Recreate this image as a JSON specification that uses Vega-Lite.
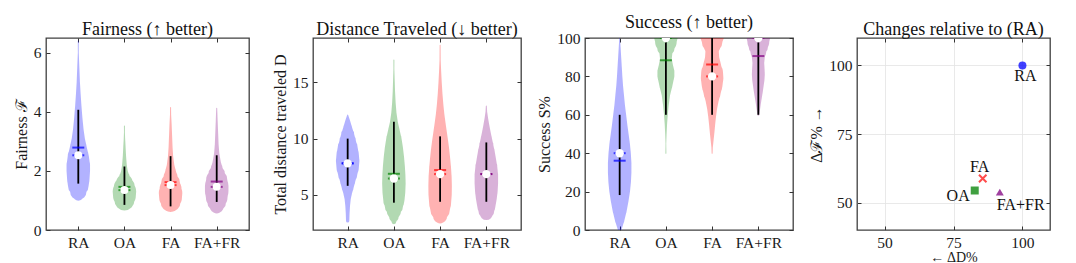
{
"$schema": "https://vega.github.io/schema/vega-lite/v6.json",
"bounds": "flush",
"spacing": 64,
"padding": {"left": 12, "top": 13, "right": 5, "bottom": 5},
"config": {
  "font": "Liberation Serif",
  "view": {"stroke": "#404040", "strokeWidth": 1.3},
  "axis": {"domain": false, "grid": false, "tickColor": "#333333", "tickSize": -4, "tickWidth": 1, "labelFont": "Liberation Serif", "labelFontSize": 15.5, "labelColor": "#1a1a1a", "labelPadding": 9, "titleFont": "Liberation Serif", "titleFontSize": 16, "titleFontWeight": "normal", "titleColor": "#1a1a1a", "titlePadding": 4},
  "title": {"font": "Liberation Serif", "fontSize": 18, "fontWeight": "normal", "color": "#111111", "offset": -1},
  "text": {"font": "Liberation Serif"}
},
"datasets": {
"violin": [
{"p":"F","g":"RA","v":1.16,"w":0.43},{"p":"F","g":"RA","v":1.3,"w":0.7},{"p":"F","g":"RA","v":1.5,"w":0.88},{"p":"F","g":"RA","v":1.7,"w":0.95},{"p":"F","g":"RA","v":2.0,"w":1.0},{"p":"F","g":"RA","v":2.2,"w":1.0},{"p":"F","g":"RA","v":2.5,"w":0.9},{"p":"F","g":"RA","v":2.8,"w":0.72},{"p":"F","g":"RA","v":3.1,"w":0.56},{"p":"F","g":"RA","v":3.4,"w":0.45},{"p":"F","g":"RA","v":3.8,"w":0.35},{"p":"F","g":"RA","v":4.2,"w":0.27},{"p":"F","g":"RA","v":4.6,"w":0.2},{"p":"F","g":"RA","v":5.0,"w":0.14},{"p":"F","g":"RA","v":5.5,"w":0.09},{"p":"F","g":"RA","v":6.0,"w":0.04},{"p":"F","g":"RA","v":6.4,"w":0.0},
{"p":"F","g":"OA","v":0.82,"w":0.25},{"p":"F","g":"OA","v":0.9,"w":0.6},{"p":"F","g":"OA","v":1.0,"w":0.85},{"p":"F","g":"OA","v":1.15,"w":0.97},{"p":"F","g":"OA","v":1.3,"w":1.0},{"p":"F","g":"OA","v":1.45,"w":0.9},{"p":"F","g":"OA","v":1.6,"w":0.72},{"p":"F","g":"OA","v":1.8,"w":0.45},{"p":"F","g":"OA","v":2.0,"w":0.28},{"p":"F","g":"OA","v":2.2,"w":0.2},{"p":"F","g":"OA","v":2.5,"w":0.14},{"p":"F","g":"OA","v":2.8,"w":0.1},{"p":"F","g":"OA","v":3.1,"w":0.06},{"p":"F","g":"OA","v":3.3,"w":0.04},{"p":"F","g":"OA","v":3.52,"w":0.0},
{"p":"F","g":"FA","v":0.78,"w":0.3},{"p":"F","g":"FA","v":0.85,"w":0.6},{"p":"F","g":"FA","v":0.95,"w":0.85},{"p":"F","g":"FA","v":1.1,"w":0.97},{"p":"F","g":"FA","v":1.25,"w":1.0},{"p":"F","g":"FA","v":1.4,"w":0.93},{"p":"F","g":"FA","v":1.6,"w":0.8},{"p":"F","g":"FA","v":1.8,"w":0.6},{"p":"F","g":"FA","v":2.0,"w":0.45},{"p":"F","g":"FA","v":2.2,"w":0.32},{"p":"F","g":"FA","v":2.5,"w":0.22},{"p":"F","g":"FA","v":2.8,"w":0.17},{"p":"F","g":"FA","v":3.2,"w":0.13},{"p":"F","g":"FA","v":3.6,"w":0.09},{"p":"F","g":"FA","v":3.9,"w":0.05},{"p":"F","g":"FA","v":4.15,"w":0.0},
{"p":"F","g":"FA+FR","v":0.68,"w":0.3},{"p":"F","g":"FA+FR","v":0.8,"w":0.6},{"p":"F","g":"FA+FR","v":0.95,"w":0.8},{"p":"F","g":"FA+FR","v":1.1,"w":0.92},{"p":"F","g":"FA+FR","v":1.3,"w":1.0},{"p":"F","g":"FA+FR","v":1.5,"w":1.0},{"p":"F","g":"FA+FR","v":1.7,"w":0.9},{"p":"F","g":"FA+FR","v":1.9,"w":0.7},{"p":"F","g":"FA+FR","v":2.1,"w":0.5},{"p":"F","g":"FA+FR","v":2.3,"w":0.35},{"p":"F","g":"FA+FR","v":2.6,"w":0.22},{"p":"F","g":"FA+FR","v":2.9,"w":0.16},{"p":"F","g":"FA+FR","v":3.3,"w":0.12},{"p":"F","g":"FA+FR","v":3.7,"w":0.08},{"p":"F","g":"FA+FR","v":4.12,"w":0.0},
{"p":"D","g":"RA","v":2.68,"w":0.14},{"p":"D","g":"RA","v":3.3,"w":0.16},{"p":"D","g":"RA","v":4.0,"w":0.2},{"p":"D","g":"RA","v":4.6,"w":0.26},{"p":"D","g":"RA","v":5.1,"w":0.36},{"p":"D","g":"RA","v":5.6,"w":0.5},{"p":"D","g":"RA","v":6.2,"w":0.65},{"p":"D","g":"RA","v":6.8,"w":0.82},{"p":"D","g":"RA","v":7.4,"w":0.95},{"p":"D","g":"RA","v":8.0,"w":1.0},{"p":"D","g":"RA","v":8.6,"w":0.95},{"p":"D","g":"RA","v":9.2,"w":0.85},{"p":"D","g":"RA","v":9.8,"w":0.7},{"p":"D","g":"RA","v":10.4,"w":0.55},{"p":"D","g":"RA","v":11.0,"w":0.37},{"p":"D","g":"RA","v":11.6,"w":0.2},{"p":"D","g":"RA","v":12.1,"w":0.0},
{"p":"D","g":"OA","v":2.6,"w":0.2},{"p":"D","g":"OA","v":3.0,"w":0.4},{"p":"D","g":"OA","v":3.5,"w":0.6},{"p":"D","g":"OA","v":4.0,"w":0.78},{"p":"D","g":"OA","v":4.5,"w":0.9},{"p":"D","g":"OA","v":5.2,"w":0.97},{"p":"D","g":"OA","v":6.0,"w":1.0},{"p":"D","g":"OA","v":6.8,"w":0.98},{"p":"D","g":"OA","v":7.6,"w":0.93},{"p":"D","g":"OA","v":8.4,"w":0.86},{"p":"D","g":"OA","v":9.2,"w":0.77},{"p":"D","g":"OA","v":10.0,"w":0.65},{"p":"D","g":"OA","v":10.8,"w":0.48},{"p":"D","g":"OA","v":11.5,"w":0.33},{"p":"D","g":"OA","v":12.3,"w":0.22},{"p":"D","g":"OA","v":13.2,"w":0.15},{"p":"D","g":"OA","v":14.2,"w":0.1},{"p":"D","g":"OA","v":15.2,"w":0.07},{"p":"D","g":"OA","v":16.2,"w":0.04},{"p":"D","g":"OA","v":17.0,"w":0.0},
{"p":"D","g":"FA","v":2.77,"w":0.3},{"p":"D","g":"FA","v":3.1,"w":0.6},{"p":"D","g":"FA","v":3.6,"w":0.82},{"p":"D","g":"FA","v":4.2,"w":0.93},{"p":"D","g":"FA","v":5.0,"w":0.99},{"p":"D","g":"FA","v":5.8,"w":1.0},{"p":"D","g":"FA","v":6.6,"w":0.98},{"p":"D","g":"FA","v":7.4,"w":0.93},{"p":"D","g":"FA","v":8.2,"w":0.86},{"p":"D","g":"FA","v":9.0,"w":0.78},{"p":"D","g":"FA","v":9.8,"w":0.68},{"p":"D","g":"FA","v":10.6,"w":0.57},{"p":"D","g":"FA","v":11.4,"w":0.46},{"p":"D","g":"FA","v":12.2,"w":0.36},{"p":"D","g":"FA","v":13.0,"w":0.28},{"p":"D","g":"FA","v":14.0,"w":0.2},{"p":"D","g":"FA","v":15.0,"w":0.14},{"p":"D","g":"FA","v":16.0,"w":0.09},{"p":"D","g":"FA","v":17.0,"w":0.05},{"p":"D","g":"FA","v":18.3,"w":0.0},
{"p":"D","g":"FA+FR","v":3.33,"w":0.55},{"p":"D","g":"FA+FR","v":3.6,"w":0.68},{"p":"D","g":"FA+FR","v":4.0,"w":0.78},{"p":"D","g":"FA+FR","v":4.6,"w":0.88},{"p":"D","g":"FA+FR","v":5.3,"w":0.96},{"p":"D","g":"FA+FR","v":6.0,"w":1.0},{"p":"D","g":"FA+FR","v":6.8,"w":1.0},{"p":"D","g":"FA+FR","v":7.5,"w":0.93},{"p":"D","g":"FA+FR","v":8.2,"w":0.82},{"p":"D","g":"FA+FR","v":8.8,"w":0.72},{"p":"D","g":"FA+FR","v":9.4,"w":0.6},{"p":"D","g":"FA+FR","v":10.0,"w":0.48},{"p":"D","g":"FA+FR","v":10.6,"w":0.36},{"p":"D","g":"FA+FR","v":11.2,"w":0.25},{"p":"D","g":"FA+FR","v":11.8,"w":0.15},{"p":"D","g":"FA+FR","v":12.4,"w":0.07},{"p":"D","g":"FA+FR","v":12.9,"w":0.0},
{"p":"S","g":"RA","v":0,"w":0.15},{"p":"S","g":"RA","v":5,"w":0.4},{"p":"S","g":"RA","v":10,"w":0.6},{"p":"S","g":"RA","v":15,"w":0.75},{"p":"S","g":"RA","v":20,"w":0.88},{"p":"S","g":"RA","v":25,"w":0.96},{"p":"S","g":"RA","v":30,"w":1.0},{"p":"S","g":"RA","v":35,"w":1.0},{"p":"S","g":"RA","v":40,"w":0.95},{"p":"S","g":"RA","v":45,"w":0.87},{"p":"S","g":"RA","v":50,"w":0.76},{"p":"S","g":"RA","v":55,"w":0.65},{"p":"S","g":"RA","v":60,"w":0.55},{"p":"S","g":"RA","v":65,"w":0.45},{"p":"S","g":"RA","v":70,"w":0.37},{"p":"S","g":"RA","v":75,"w":0.29},{"p":"S","g":"RA","v":80,"w":0.23},{"p":"S","g":"RA","v":85,"w":0.18},{"p":"S","g":"RA","v":90,"w":0.13},{"p":"S","g":"RA","v":95,"w":0.08},{"p":"S","g":"RA","v":100,"w":0.03},
{"p":"S","g":"OA","v":40,"w":0.0},{"p":"S","g":"OA","v":45,"w":0.03},{"p":"S","g":"OA","v":50,"w":0.06},{"p":"S","g":"OA","v":55,"w":0.1},{"p":"S","g":"OA","v":60,"w":0.16},{"p":"S","g":"OA","v":65,"w":0.24},{"p":"S","g":"OA","v":70,"w":0.35},{"p":"S","g":"OA","v":75,"w":0.55},{"p":"S","g":"OA","v":80,"w":0.72},{"p":"S","g":"OA","v":83,"w":0.72},{"p":"S","g":"OA","v":86,"w":0.6},{"p":"S","g":"OA","v":89,"w":0.5},{"p":"S","g":"OA","v":92,"w":0.55},{"p":"S","g":"OA","v":95,"w":0.75},{"p":"S","g":"OA","v":98,"w":0.92},{"p":"S","g":"OA","v":100,"w":1.0},
{"p":"S","g":"FA","v":40,"w":0.0},{"p":"S","g":"FA","v":43,"w":0.06},{"p":"S","g":"FA","v":47,"w":0.13},{"p":"S","g":"FA","v":51,"w":0.2},{"p":"S","g":"FA","v":55,"w":0.26},{"p":"S","g":"FA","v":59,"w":0.33},{"p":"S","g":"FA","v":63,"w":0.42},{"p":"S","g":"FA","v":67,"w":0.55},{"p":"S","g":"FA","v":71,"w":0.72},{"p":"S","g":"FA","v":75,"w":0.88},{"p":"S","g":"FA","v":79,"w":0.96},{"p":"S","g":"FA","v":82,"w":0.93},{"p":"S","g":"FA","v":86,"w":0.76},{"p":"S","g":"FA","v":90,"w":0.6},{"p":"S","g":"FA","v":93,"w":0.57},{"p":"S","g":"FA","v":96,"w":0.72},{"p":"S","g":"FA","v":98,"w":0.88},{"p":"S","g":"FA","v":100,"w":1.0},
{"p":"S","g":"FA+FR","v":60,"w":0.08},{"p":"S","g":"FA+FR","v":63,"w":0.15},{"p":"S","g":"FA+FR","v":66,"w":0.22},{"p":"S","g":"FA+FR","v":69,"w":0.3},{"p":"S","g":"FA+FR","v":72,"w":0.38},{"p":"S","g":"FA+FR","v":75,"w":0.45},{"p":"S","g":"FA+FR","v":78,"w":0.52},{"p":"S","g":"FA+FR","v":81,"w":0.55},{"p":"S","g":"FA+FR","v":84,"w":0.53},{"p":"S","g":"FA+FR","v":87,"w":0.5},{"p":"S","g":"FA+FR","v":90,"w":0.55},{"p":"S","g":"FA+FR","v":93,"w":0.68},{"p":"S","g":"FA+FR","v":96,"w":0.84},{"p":"S","g":"FA+FR","v":98,"w":0.93},{"p":"S","g":"FA+FR","v":100,"w":1.0}
],
"stats": [
{"p":"F","g":"RA","lo":1.57,"hi":4.07,"mean":2.79,"med":2.53},
{"p":"F","g":"OA","lo":0.85,"hi":2.15,"mean":1.46,"med":1.35},
{"p":"F","g":"FA","lo":0.8,"hi":2.5,"mean":1.62,"med":1.52},
{"p":"F","g":"FA+FR","lo":0.95,"hi":2.53,"mean":1.64,"med":1.46},
{"p":"D","g":"RA","lo":5.8,"hi":10.0,"mean":7.8,"med":7.8},
{"p":"D","g":"OA","lo":4.3,"hi":11.5,"mean":6.87,"med":6.45},
{"p":"D","g":"FA","lo":4.38,"hi":10.2,"mean":7.2,"med":6.84},
{"p":"D","g":"FA+FR","lo":4.38,"hi":9.66,"mean":6.85,"med":6.84},
{"p":"S","g":"RA","lo":18.2,"hi":60,"mean":36.1,"med":40},
{"p":"S","g":"OA","lo":60,"hi":97.7,"mean":88.4,"med":100},
{"p":"S","g":"FA","lo":60,"hi":100,"mean":86.2,"med":80},
{"p":"S","g":"FA+FR","lo":60,"hi":97.7,"mean":90.6,"med":100}
],
"pts": [
{"g":"RA","dd":100,"df":100},
{"g":"OA","dd":82.7,"df":54.4},
{"g":"FA","dd":85.6,"df":58.8},
{"g":"FA+FR","dd":91.8,"df":53.8}
]
},
"hconcat": [
{
 "width": 203, "height": 192, "title": "Fairness (↑ better)",
 "layer": [
  {"data": {"name": "violin"}, "transform": [{"filter": "datum.p == 'F'"}],
   "mark": {"type": "trail", "opacity": 0.3, "clip": true},
   "encoding": {
    "x": {"field": "g", "type": "nominal", "sort": ["RA","OA","FA","FA+FR"], "scale": {"type": "point", "padding": 0.7}, "axis": {"title": null, "labelAngle": 0, "orient": "bottom"}},
    "y": {"field": "v", "type": "quantitative", "scale": {"domain": [0, 6.5], "nice": false, "zero": false}, "axis": {"title": "Fairness ℱ", "values": [0,2,4,6]}},
    "size": {"field": "w", "type": "quantitative", "scale": {"domain": [0, 1], "range": [0, 23.5]}, "legend": null},
    "color": {"field": "g", "type": "nominal", "scale": {"domain": ["RA","OA","FA","FA+FR"], "range": ["#0000ff","#008000","#ff0000","#800080"]}, "legend": null},
    "order": {"field": "v", "type": "quantitative"}
   }},
  {"data": {"name": "stats"}, "transform": [{"filter": "datum.p == 'F'"}],
   "mark": {"type": "rule", "color": "#000000", "strokeWidth": 1.8},
   "encoding": {
    "x": {"field": "g", "type": "nominal", "sort": ["RA","OA","FA","FA+FR"], "axis": {"orient": "top", "labels": false, "title": null}},
    "y": {"field": "lo", "type": "quantitative", "axis": {"orient": "right", "labels": false, "title": null, "values": [0,2,4,6]}},
    "y2": {"field": "hi"}
   }},
  {"data": {"name": "stats"}, "transform": [{"filter": "datum.p == 'F'"}],
   "mark": {"type": "tick", "size": 12, "thickness": 2},
   "encoding": {
    "x": {"field": "g", "type": "nominal", "sort": ["RA","OA","FA","FA+FR"], "axis": null},
    "y": {"field": "med", "type": "quantitative", "axis": null},
    "color": {"field": "g", "type": "nominal", "legend": null}
   }},
  {"data": {"name": "stats"}, "transform": [{"filter": "datum.p == 'F'"}],
   "mark": {"type": "tick", "size": 12, "thickness": 2},
   "encoding": {
    "x": {"field": "g", "type": "nominal", "sort": ["RA","OA","FA","FA+FR"], "axis": null},
    "y": {"field": "mean", "type": "quantitative", "axis": null},
    "color": {"field": "g", "type": "nominal", "legend": null}
   }},
  {"data": {"name": "stats"}, "transform": [{"filter": "datum.p == 'F'"}],
   "mark": {"type": "point", "filled": true, "color": "#ffffff", "opacity": 1, "size": 64, "clip": true},
   "encoding": {
    "x": {"field": "g", "type": "nominal", "sort": ["RA","OA","FA","FA+FR"], "axis": null},
    "y": {"field": "med", "type": "quantitative", "axis": null}
   }}
 ],
 "resolve": {"axis": {"x": "independent", "y": "independent"}}
},
{
 "width": 208, "height": 192, "title": "Distance Traveled (↓ better)",
 "layer": [
  {"data": {"name": "violin"}, "transform": [{"filter": "datum.p == 'D'"}],
   "mark": {"type": "trail", "opacity": 0.3, "clip": true},
   "encoding": {
    "x": {"field": "g", "type": "nominal", "sort": ["RA","OA","FA","FA+FR"], "scale": {"type": "point", "padding": 0.75}, "axis": {"title": null, "labelAngle": 0, "orient": "bottom"}},
    "y": {"field": "v", "type": "quantitative", "scale": {"domain": [1.87, 18.95], "nice": false, "zero": false}, "axis": {"title": "Total distance traveled D", "values": [5,10,15]}},
    "size": {"field": "w", "type": "quantitative", "scale": {"domain": [0, 1], "range": [0, 23.5]}, "legend": null},
    "color": {"field": "g", "type": "nominal", "scale": {"domain": ["RA","OA","FA","FA+FR"], "range": ["#0000ff","#008000","#ff0000","#800080"]}, "legend": null},
    "order": {"field": "v", "type": "quantitative"}
   }},
  {"data": {"name": "stats"}, "transform": [{"filter": "datum.p == 'D'"}],
   "mark": {"type": "rule", "color": "#000000", "strokeWidth": 1.8},
   "encoding": {
    "x": {"field": "g", "type": "nominal", "sort": ["RA","OA","FA","FA+FR"], "axis": {"orient": "top", "labels": false, "title": null}},
    "y": {"field": "lo", "type": "quantitative", "axis": {"orient": "right", "labels": false, "title": null, "values": [5,10,15]}},
    "y2": {"field": "hi"}
   }},
  {"data": {"name": "stats"}, "transform": [{"filter": "datum.p == 'D'"}],
   "mark": {"type": "tick", "size": 12, "thickness": 2},
   "encoding": {
    "x": {"field": "g", "type": "nominal", "sort": ["RA","OA","FA","FA+FR"], "axis": null},
    "y": {"field": "med", "type": "quantitative", "axis": null},
    "color": {"field": "g", "type": "nominal", "legend": null}
   }},
  {"data": {"name": "stats"}, "transform": [{"filter": "datum.p == 'D'"}],
   "mark": {"type": "tick", "size": 12, "thickness": 2},
   "encoding": {
    "x": {"field": "g", "type": "nominal", "sort": ["RA","OA","FA","FA+FR"], "axis": null},
    "y": {"field": "mean", "type": "quantitative", "axis": null},
    "color": {"field": "g", "type": "nominal", "legend": null}
   }},
  {"data": {"name": "stats"}, "transform": [{"filter": "datum.p == 'D'"}],
   "mark": {"type": "point", "filled": true, "color": "#ffffff", "opacity": 1, "size": 70, "clip": true},
   "encoding": {
    "x": {"field": "g", "type": "nominal", "sort": ["RA","OA","FA","FA+FR"], "axis": null},
    "y": {"field": "med", "type": "quantitative", "axis": null}
   }}
 ],
 "resolve": {"axis": {"x": "independent", "y": "independent"}}
},
{
 "width": 208, "height": 192, "title": "Success (↑ better)",
 "layer": [
  {"data": {"name": "violin"}, "transform": [{"filter": "datum.p == 'S'"}],
   "mark": {"type": "trail", "opacity": 0.3, "clip": true},
   "encoding": {
    "x": {"field": "g", "type": "nominal", "sort": ["RA","OA","FA","FA+FR"], "scale": {"type": "point", "padding": 0.75}, "axis": {"title": null, "labelAngle": 0, "orient": "bottom"}},
    "y": {"field": "v", "type": "quantitative", "scale": {"domain": [0, 100], "nice": false}, "axis": {"title": "Success S%", "values": [0,20,40,60,80,100]}},
    "size": {"field": "w", "type": "quantitative", "scale": {"domain": [0, 1], "range": [0, 23.5]}, "legend": null},
    "color": {"field": "g", "type": "nominal", "scale": {"domain": ["RA","OA","FA","FA+FR"], "range": ["#0000ff","#008000","#ff0000","#800080"]}, "legend": null},
    "order": {"field": "v", "type": "quantitative"}
   }},
  {"data": {"name": "stats"}, "transform": [{"filter": "datum.p == 'S'"}],
   "mark": {"type": "rule", "color": "#000000", "strokeWidth": 1.8},
   "encoding": {
    "x": {"field": "g", "type": "nominal", "sort": ["RA","OA","FA","FA+FR"], "axis": {"orient": "top", "labels": false, "title": null}},
    "y": {"field": "lo", "type": "quantitative", "axis": {"orient": "right", "labels": false, "title": null, "values": [0,20,40,60,80,100]}},
    "y2": {"field": "hi"}
   }},
  {"data": {"name": "stats"}, "transform": [{"filter": "datum.p == 'S'"}],
   "mark": {"type": "tick", "size": 12, "thickness": 2, "clip": true},
   "encoding": {
    "x": {"field": "g", "type": "nominal", "sort": ["RA","OA","FA","FA+FR"], "axis": null},
    "y": {"field": "med", "type": "quantitative", "axis": null},
    "color": {"field": "g", "type": "nominal", "legend": null}
   }},
  {"data": {"name": "stats"}, "transform": [{"filter": "datum.p == 'S'"}],
   "mark": {"type": "tick", "size": 12, "thickness": 2},
   "encoding": {
    "x": {"field": "g", "type": "nominal", "sort": ["RA","OA","FA","FA+FR"], "axis": null},
    "y": {"field": "mean", "type": "quantitative", "axis": null},
    "color": {"field": "g", "type": "nominal", "legend": null}
   }},
  {"data": {"name": "stats"}, "transform": [{"filter": "datum.p == 'S'"}],
   "mark": {"type": "point", "filled": true, "color": "#ffffff", "opacity": 1, "size": 70, "clip": true},
   "encoding": {
    "x": {"field": "g", "type": "nominal", "sort": ["RA","OA","FA","FA+FR"], "axis": null},
    "y": {"field": "med", "type": "quantitative", "axis": null}
   }}
 ],
 "resolve": {"axis": {"x": "independent", "y": "independent"}}
},
{
 "width": 193, "height": 192, "title": "Changes relative to (RA)",
 "data": {"name": "pts"},
 "layer": [
  {"transform": [{"filter": "datum.g != 'FA'"}],
   "mark": {"type": "point", "filled": true, "opacity": 0.75, "size": 64},
   "encoding": {
    "x": {"field": "dd", "type": "quantitative", "scale": {"domain": [40, 110], "nice": false, "zero": false}, "axis": {"title": "← ΔD%", "titlePadding": 0, "titleFontSize": 14, "values": [50,75,100], "grid": true, "gridColor": "#e3e3e3", "gridWidth": 0.8}},
    "y": {"field": "df", "type": "quantitative", "scale": {"domain": [40, 110], "nice": false, "zero": false}, "axis": {"title": "Δℱ% →", "values": [50,75,100], "grid": true, "gridColor": "#e3e3e3", "gridWidth": 0.8}},
    "color": {"field": "g", "type": "nominal", "scale": {"domain": ["RA","OA","FA+FR"], "range": ["#0000ff","#008000","#800080"]}, "legend": null},
    "shape": {"field": "g", "type": "nominal", "scale": {"domain": ["RA","OA","FA+FR"], "range": ["circle","square","triangle-up"]}, "legend": null}
   }},
  {"transform": [{"filter": "datum.g == 'FA'"}],
   "mark": {"type": "point", "shape": "M-1,-1L1,1M-1,1L1,-1", "filled": false, "stroke": "#ff2020", "strokeWidth": 2, "size": 56, "opacity": 0.8},
   "encoding": {
    "x": {"field": "dd", "type": "quantitative", "axis": {"orient": "top", "labels": false, "title": null, "values": [50,75,100]}},
    "y": {"field": "df", "type": "quantitative", "axis": {"orient": "right", "labels": false, "title": null, "values": [50,75,100]}}
   }},
  {"transform": [{"filter": "datum.g == 'RA'"}],
   "mark": {"type": "text", "dx": 3, "dy": 11, "align": "center", "baseline": "middle", "fontSize": 16, "color": "#111111"},
   "encoding": {"x": {"field": "dd", "type": "quantitative", "axis": null}, "y": {"field": "df", "type": "quantitative", "axis": null}, "text": {"field": "g"}}},
  {"transform": [{"filter": "datum.g == 'FA'"}],
   "mark": {"type": "text", "dx": -3, "dy": -11, "align": "center", "baseline": "middle", "fontSize": 16, "color": "#111111"},
   "encoding": {"x": {"field": "dd", "type": "quantitative", "axis": null}, "y": {"field": "df", "type": "quantitative", "axis": null}, "text": {"field": "g"}}},
  {"transform": [{"filter": "datum.g == 'OA'"}],
   "mark": {"type": "text", "dx": -5, "dy": 5, "align": "right", "baseline": "middle", "fontSize": 16, "color": "#111111"},
   "encoding": {"x": {"field": "dd", "type": "quantitative", "axis": null}, "y": {"field": "df", "type": "quantitative", "axis": null}, "text": {"field": "g"}}},
  {"transform": [{"filter": "datum.g == 'FA+FR'"}],
   "mark": {"type": "text", "dx": -3, "dy": 13, "align": "left", "baseline": "middle", "fontSize": 16, "color": "#111111"},
   "encoding": {"x": {"field": "dd", "type": "quantitative", "axis": null}, "y": {"field": "df", "type": "quantitative", "axis": null}, "text": {"field": "g"}}}
 ],
 "resolve": {"axis": {"x": "independent", "y": "independent"}}
}
]
}
